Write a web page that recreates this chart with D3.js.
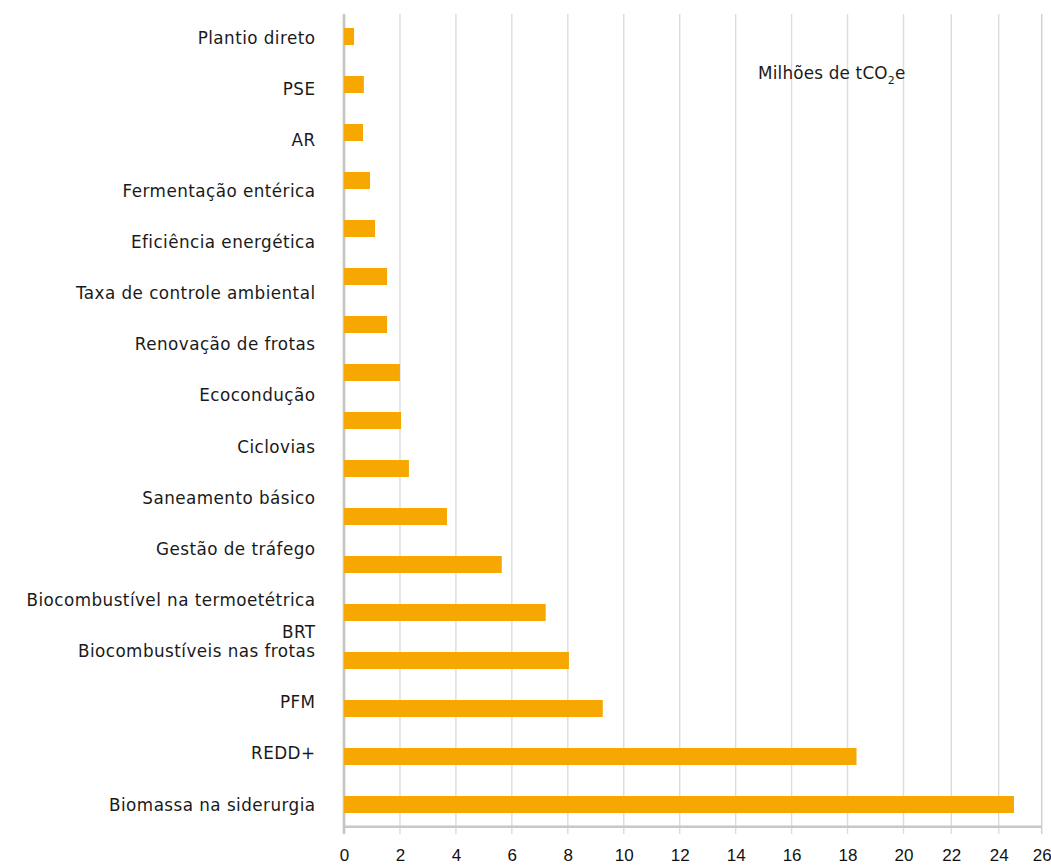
<!DOCTYPE html>
<html>
<head>
<meta charset="utf-8">
<script src="https://cdn.jsdelivr.net/npm/d3@7"></script>
<style>
  html, body { margin: 0; padding: 0; background: #fff; }
  svg { display: block; font-family: "Liberation Sans", Arial, Helvetica, sans-serif; }
</style>
</head>
<body>
<svg id="chart" width="1051" height="866"></svg>
<script>
// ---- Data ----
const categories = [
  "Plantio direto", "PSE", "AR", "Fermentação entérica", "Eficiência energética",
  "Taxa de controle ambiental", "Renovação de frotas", "Ecocondução", "Ciclovias",
  "Saneamento básico", "Gestão de tráfego", "Biocombustível na termoetétrica", "BRT",
  "Biocombustíveis nas frotas", "PFM", "REDD+", "Biomassa na siderurgia"
];
const values = [0.36, 0.71, 0.68, 0.93, 1.11, 1.54, 1.54, 2.0, 2.04, 2.32, 3.68, 5.64, 7.21, 8.04, 9.25, 18.32, 24.71];
// labels that are printed as an extra line above the following label
const stackedLabels = ["BRT"];
const xTicks = [0, 2, 4, 6, 8, 10, 12, 14, 16, 18, 20, 22, 24, 26];
const xBreaks = [0, 20, 22, 24, 26];
const unitLabel = "Milhões de tCO";
const unitSub = "2";
const unitTail = "e";

// ---- Build label slots ----
const labelSlots = [];
let pending = [];
categories.forEach(c => {
  if (stackedLabels.includes(c)) { pending.push(c); return; }
  labelSlots.push({ key: c, lines: pending.concat([c]) });
  pending = [];
});

// ---- Scales ----
const svg = d3.select("#chart");
const x = d3.scaleLinear().domain(xBreaks).range([344, 903.5, 951.3, 998.7, 1041.7]);
const y = d3.scaleBand().domain(categories).range([12.5, 828.5]).paddingInner(31 / 48).paddingOuter(31 / 96);
const yLab = d3.scalePoint().domain(labelSlots.map(d => d.key)).range([39, 806]);

const gridTop = 14, axisY = 826.7, tickBottom = 834;
const labelFont = "'DejaVu Sans', Verdana, sans-serif";

// Gridlines
svg.append("g").selectAll("line").data(xTicks.filter(t => t > 0)).join("line")
  .attr("x1", d => x(d)).attr("x2", d => x(d))
  .attr("y1", gridTop).attr("y2", tickBottom)
  .attr("stroke", d => d === 26 ? "#cfcfcf" : "#dcdcdc").attr("stroke-width", 1.4);

// Bottom axis line
svg.append("line").attr("x1", x(0)).attr("x2", x(26)).attr("y1", axisY).attr("y2", axisY)
  .attr("stroke", "#c8c8c8").attr("stroke-width", 2.4);
// Left axis line
svg.append("line").attr("x1", x(0)).attr("x2", x(0)).attr("y1", gridTop).attr("y2", tickBottom)
  .attr("stroke", "#c4c4c4").attr("stroke-width", 2.6);

// Bars
svg.append("g").selectAll("rect").data(categories).join("rect")
  .attr("x", x(0))
  .attr("y", d => y(d))
  .attr("width", (d, i) => x(values[i]) - x(0))
  .attr("height", 17)
  .attr("fill", "#F6A700");

// X tick labels via d3 axis
const xAxis = d3.axisBottom(x).tickValues(xTicks).tickSize(0).tickPadding(0).tickFormat(d3.format("d"));
const gx = svg.append("g").attr("transform", `translate(0, 849)`).call(xAxis);
gx.select(".domain").remove();
gx.selectAll("text").attr("font-size", 17).attr("fill", "#111")
  .attr("font-family", "'Liberation Sans', Arial, sans-serif").attr("dy", "0.71em");

// Category labels
const lab = svg.append("g").selectAll("text").data(labelSlots).join("text")
  .attr("text-anchor", "end")
  .attr("font-family", labelFont)
  .attr("font-size", 16.8)
  .attr("letter-spacing", 0.45)
  .attr("fill", "#1a1a1a");
lab.each(function(d) {
  const t = d3.select(this);
  const n = d.lines.length;
  d.lines.forEach((line, i) => {
    t.append("tspan").attr("x", 315.5)
      .attr("y", yLab(d.key) - 1.5 - (n - 1 - i) * 19.5)
      .attr("dy", "0.36em")
      .text(line);
  });
});

// Unit annotation
const u = svg.append("text").attr("x", 758).attr("y", 79.3)
  .attr("font-family", labelFont).attr("font-size", 16.8).attr("letter-spacing", 0.2).attr("fill", "#1a1a1a");
u.append("tspan").text(unitLabel);
u.append("tspan").attr("font-size", 11).attr("dy", 5).text(unitSub);
u.append("tspan").attr("dy", -5).text(unitTail);
</script>
</body>
</html>
